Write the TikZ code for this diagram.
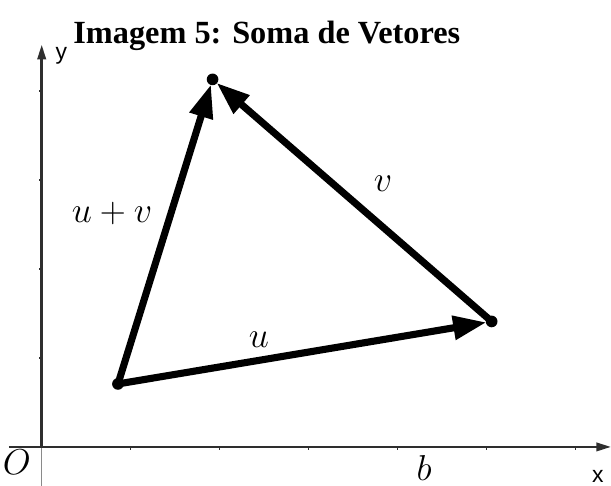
\documentclass[tikz,border=0pt]{standalone}
\usepackage{fontspec}
\usetikzlibrary{arrows.meta}
\newfontfamily\titlefont{Liberation Serif}
\newfontfamily\axisfont{Liberation Sans}
\definecolor{axgray}{HTML}{2E2E2E}
\definecolor{ltgray}{HTML}{8A8A8A}
\definecolor{vecblack}{HTML}{000000}

\tikzset{
  axisline/.style={axgray, line width=1.2pt},
  tickline/.style={axgray, line width=0.6pt},
  vecline/.style={vecblack, line width=3.4pt, -{Triangle[length=16pt, width=11pt]}, shorten >=2.5pt},
  tip/.style={circle, fill=vecblack, inner sep=0pt, minimum size=5.6pt},
  veclabel/.style={font=\fontsize{16}{18}\selectfont},
  axlabel/.style={font=\axisfont\fontsize{11}{13}\selectfont, inner sep=0pt}
}

\begin{document}
\begin{tikzpicture}[x=1.5cm, y=1.5cm]

% Frame of the page
\useasboundingbox (-0.4685,-0.438) rectangle (6.397,5.022);

% Title
\node[font=\titlefont\fontsize{15.5}{18}\selectfont\bfseries] (title) at (2.53,4.62) {Imagem 5: Soma de Vetores};

% ============================================================
% Axes
% ============================================================
\coordinate (O) at (0,0);
\coordinate (xleft) at (-0.37,0);
\coordinate (xend) at (6.397,0);
\coordinate (ybot) at (0,-0.438);
\coordinate (yend) at (0,4.52);

\draw[ltgray, line width=0.6pt] (O) -- (ybot);
\draw[axgray, line width=0.6pt] (xleft) -- (O);
\draw[axisline, -{Triangle[length=7pt, width=4pt]}] (O) -- (xend);
\draw[axisline, -{Triangle[length=7pt, width=4pt]}] (O) -- (yend);

% Ticks
\foreach \i in {1,...,6}
  \draw[tickline] (\i,0) -- (\i,-0.035);
\foreach \j in {1,...,4}
  \draw[tickline] (0,\j) -- (-0.035,\j);

% Axis labels
\node[axlabel] (ylab) at (0.22,4.39) {y};
\node[axlabel] (xlab) at (6.25,-0.33) {x};
\node[veclabel] (olab) at (-0.28,-0.17) {$O$};
\node[veclabel, inner sep=0pt] (blab) at (4.296,-0.24) {$b$};

% ============================================================
% Triangle of vectors
% ============================================================
\node[tip] (A) at (0.857,0.708) {};
\node[tip] (B) at (5.056,1.410) {};
\node[tip] (C) at (1.92,4.13) {};

\draw[vecline] (A.center) -- (B.center);
\draw[vecline] (B.center) -- (C.center);
\draw[vecline] (A.center) -- (C.center);

% Labels of the vectors
\node[veclabel] (ulab) at (2.44,1.21) {$u$};
\node[veclabel] (vlab) at (3.835,2.96) {$v$};
\node[veclabel] (uvlab) at (0.79,2.62) {$u+v$};

\end{tikzpicture}
\end{document}
